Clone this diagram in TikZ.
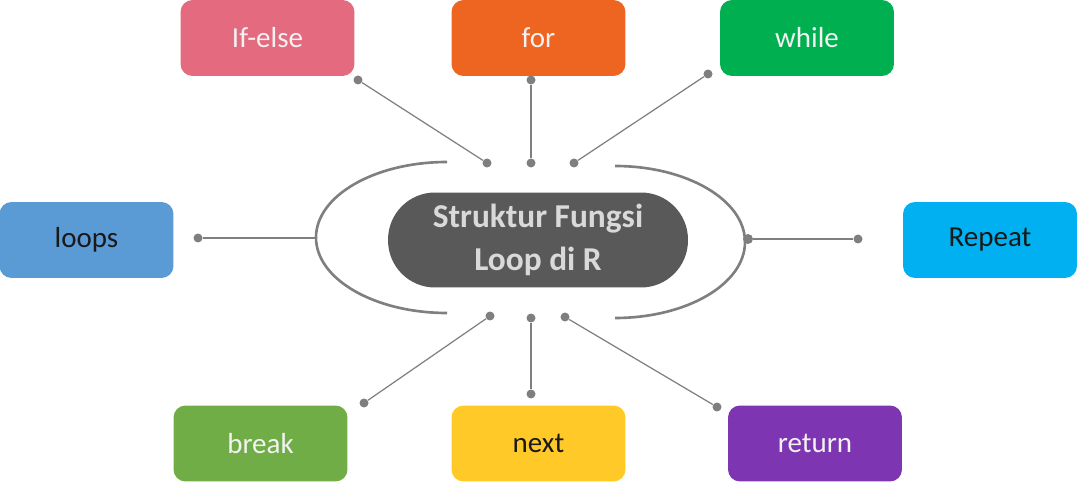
\documentclass[tikz,border=0pt]{standalone}
\usepackage{fontspec}
\setmainfont{Carlito}
\definecolor{ifelsecol}{HTML}{E46A80}
\definecolor{forcol}{HTML}{EE6522}
\definecolor{whilecol}{HTML}{00B050}
\definecolor{loopscol}{HTML}{5B9BD5}
\definecolor{repeatcol}{HTML}{00B0F0}
\definecolor{breakcol}{HTML}{70AD47}
\definecolor{nextcol}{HTML}{FFCA28}
\definecolor{returncol}{HTML}{7E35B2}
\definecolor{linecol}{HTML}{7F7F7F}
\definecolor{pillcol}{HTML}{595959}
\tikzset{
  kind/.style={rectangle,rounded corners=0.24cm,minimum width=3.48cm,minimum height=1.52cm,
    inner sep=0pt,font=\fontsize{16.5}{19}\selectfont,text=white!95!black},
  dot/.style={circle,fill=linecol,inner sep=0pt,minimum size=0.18cm},
  link/.style={draw=linecol,line width=0.7pt},
}
\begin{document}
\begin{tikzpicture}[x=0.02cm,y=-0.02cm]
\useasboundingbox (0,0) rectangle (1077,482);
\node[kind,fill=ifelsecol] (ifelse) at (267.5,38) {If-else};
\node[kind,fill=forcol] (for) at (538.5,38) {for};
\node[kind,fill=whilecol] (while) at (807,38) {while};
\node[kind,fill=loopscol,text=black!90] (loops) at (86.5,240) {loops};
\node[kind,fill=repeatcol,text=black!90] (repeat) at (990,240) {Repeat};
\node[kind,fill=breakcol] (break) at (260.5,443.5) {break};
\node[kind,fill=nextcol,text=black!90] (next) at (538.5,443.5) {next};
\node[kind,fill=returncol] (return) at (815,443.5) {return};
\node[rectangle,rounded corners=0.94cm,fill=pillcol,minimum width=6cm,minimum height=1.9cm,
  align=center,text=white!85!black,font=\fontsize{19}{24.5}\selectfont\bfseries] (centre) at (538,240)
  {Struktur Fungsi\\Loop di R};
\draw[linecol,line width=1.5pt] (447,162) arc [start angle=270,end angle=90,x radius=131,y radius=75.5];
\draw[linecol,line width=1.5pt] (615,166) arc [start angle=270,end angle=450,x radius=130,y radius=76];
\node[dot] (ifelse-out) at (358,80) {};
\node[dot] (ifelse-in) at (487,163) {};
\node[dot] (for-out) at (531,80) {};
\node[dot] (for-in) at (531,163) {};
\node[dot] (while-out) at (708,74) {};
\node[dot] (while-in) at (574,163) {};
\node[dot] (loops-out) at (198,238) {};
\coordinate (loops-in) at (316,238);
\node[dot] (repeat-out) at (858,239) {};
\node[dot,minimum size=0.2cm] (repeat-in) at (748,239) {};
\node[dot] (break-out) at (364,403) {};
\node[dot] (break-in) at (490,316) {};
\node[dot] (next-out) at (531,394) {};
\node[dot] (next-in) at (531,318) {};
\node[dot] (return-out) at (717,407) {};
\node[dot] (return-in) at (565,317) {};
\draw[link] (ifelse-out) -- (ifelse-in);
\draw[link] (for-out) -- (for-in);
\draw[link] (while-out) -- (while-in);
\draw[link] (loops-out) -- (loops-in);
\draw[link] (repeat-out) -- (repeat-in);
\draw[link] (break-out) -- (break-in);
\draw[link] (next-out) -- (next-in);
\draw[link] (return-out) -- (return-in);
\end{tikzpicture}
\end{document}
